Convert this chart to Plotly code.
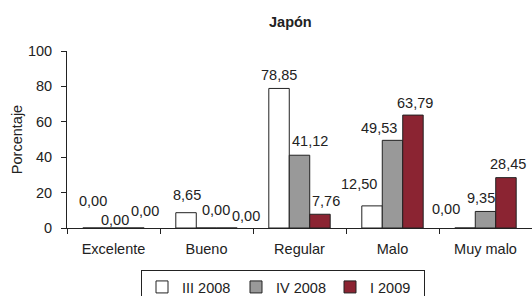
import plotly.graph_objects as go

categories = ["Excelente", "Bueno", "Regular", "Malo", "Muy malo"]
series_names = ["III 2008", "IV 2008", "I 2009"]
iii_2008 = [0.00, 8.65, 78.85, 12.50, 0.00]
iv_2008 = [0.00, 0.00, 41.12, 49.53, 9.35]
i_2009 = [0.00, 0.00, 7.76, 63.79, 28.45]
y_ticks = [0, 20, 40, 60, 80, 100]

# style: fill colours and label nudges (pixels) per series
fills = ["#ffffff", "#999999", "#8b2432"]
label_dx = [[0, 1, 0, -13, -19], [1, 9, 10, -14, -5], [11, 19, 6, 2, 2]]
label_dy = [[27, 17.5, 13, 22, 19], [8, 18, 14, 12, 13.5], [17, 12, 13, 12, 13.5]]

series = [iii_2008, iv_2008, i_2009]
FONT = "Liberation Sans, Arial, sans-serif"
FS = 14.5
INK = "#222222"

def fmt(v):
    return f"{v:.2f}".replace(".", ",")

fig = go.Figure()
for name, vals, col in zip(series_names, series, fills):
    fig.add_trace(go.Bar(
        x=categories, y=vals, name=name,
        marker=dict(color=col, line=dict(color=INK, width=1)),
    ))

bargap = 0.34
bw = (1 - bargap) / 3
plot_h = 296 - 51 - 68
ann = []
for si, vals in enumerate(series):
    for ci, v in enumerate(vals):
        ann.append(dict(
            x=ci + (si - 1) * bw, y=v, xref="x", yref="y",
            text=fmt(v), showarrow=False,
            xanchor="center", yanchor="middle",
            xshift=label_dx[si][ci], yshift=label_dy[si][ci],
            font=dict(family=FONT, size=FS, color=INK),
        ))

ann.append(dict(
    x=0.48, y=1 + (51 - 22) / plot_h, xref="paper", yref="paper",
    yanchor="middle", xanchor="center", showarrow=False,
    text="<b>Japón</b>", font=dict(family=FONT, size=FS, color=INK),
))

fig.update_layout(
    width=532, height=296,
    margin=dict(l=67, r=0, t=51, b=68, autoexpand=False),
    paper_bgcolor="white", plot_bgcolor="white",
    barmode="group", bargap=bargap, bargroupgap=0,
    font=dict(family=FONT, size=FS, color=INK),
    showlegend=True,
    legend=dict(
        orientation="h", x=(141 - 67) / 465, y=-(270 - 228) / plot_h,
        xanchor="left", yanchor="top",
        bordercolor=INK, borderwidth=1,
        font=dict(family=FONT, size=FS, color=INK),
        entrywidth=49, entrywidthmode="pixels",
        itemwidth=30, tracegroupgap=0,
    ),
    annotations=ann,
)
fig.update_xaxes(
    type="category", showline=True, linecolor=INK, linewidth=1,
    ticks="outside", tickson="boundaries", ticklen=5, tickcolor=INK,
    showgrid=False, zeroline=False, ticklabelstandoff=8,
)
fig.update_yaxes(
    range=[0, 100], tickvals=y_ticks, showline=True, linecolor=INK, linewidth=1,
    ticks="outside", ticklen=5, tickcolor=INK,
    showgrid=False, zeroline=False, ticklabelstandoff=6,
    title=dict(text="Porcentaje", standoff=1, font=dict(family=FONT, size=FS)),
)
fig.write_html(
    "out.html",
    config={"displayModeBar": False},
    post_script="document.body.style.margin='0';document.body.style.overflow='hidden';",
)
